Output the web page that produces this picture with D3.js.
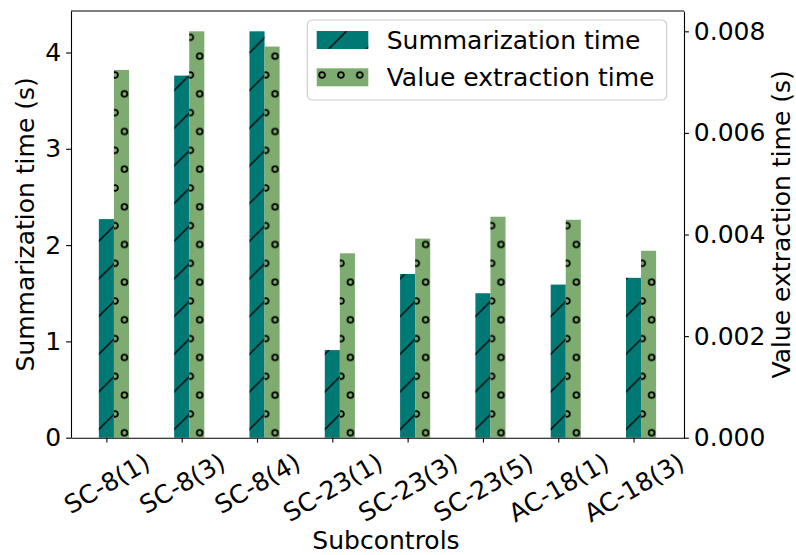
<!DOCTYPE html>
<html>
<head>
<meta charset="utf-8">
<script src="https://cdn.jsdelivr.net/npm/d3@7"></script>
<style>
  body { margin: 0; background: #fff; }
  text { font-family: "DejaVu Sans", sans-serif; }
</style>
</head>
<body>
<div id="chart"></div>
<script>
// values
const subcontrols = ["SC-8(1)", "SC-8(3)", "SC-8(4)", "SC-23(1)", "SC-23(3)", "SC-23(5)", "AC-18(1)", "AC-18(3)"];
const summarizationTime = [2.27, 3.76, 4.22, 0.91, 1.70, 1.50, 1.59, 1.66];
const extractionTime = [0.00724, 0.0080, 0.00770, 0.00363, 0.00392, 0.00435, 0.00429, 0.00368];
const leftTicks = [0, 1, 2, 3, 4];
const rightTicks = [0, 0.002, 0.004, 0.006, 0.008];

const width = 796;
const height = 555;
const margin = { top: 11, right: 112, bottom: 117.3, left: 71 };
const fontSize = 25;
const tickLen = 4.9;
const tickPad = 4.9;
const barW = 0.2;   // in category units, like matplotlib width=0.2

const teal = "#007874";
const green = "#7eab6f";

const svg = d3.select("#chart").append("svg")
  .attr("width", width)
  .attr("height", height);

const x0 = margin.left, x1 = width - margin.right;
const yBottom = height - margin.bottom, yTop = margin.top;

// matplotlib-like autoscale: 5% margins around the bars
const x = d3.scaleLinear()
  .domain([-barW / 2 - 0.37, subcontrols.length - 1 + 1.5 * barW + 0.37])
  .range([x0, x1]);
const yL = d3.scaleLinear()
  .domain([0, d3.max(summarizationTime) * 1.05])
  .range([yBottom, yTop]);
const yR = d3.scaleLinear()
  .domain([0, d3.max(extractionTime) * 1.05])
  .range([yBottom, yTop]);

// hatch patterns (global, like matplotlib)
const defs = svg.append("defs");
const T = 37.66;
const slash = defs.append("pattern")
  .attr("id", "hatch-slash")
  .attr("patternUnits", "userSpaceOnUse")
  .attr("x", 1).attr("y", 0)
  .attr("width", T).attr("height", T);
slash.append("path")
  .attr("d", `M0,${T} L${T},0 M-2,2 L2,-2 M${T - 2},${T + 2} L${T + 2},${T - 2}`)
  .attr("stroke", "#000")
  .attr("stroke-width", 1.3);

const W = T / 2;
const rings = defs.append("pattern")
  .attr("id", "hatch-rings")
  .attr("patternUnits", "userSpaceOnUse")
  .attr("x", 115).attr("y", 75)
  .attr("width", W).attr("height", T);
rings.selectAll("circle")
  .data([[0, 0], [W, 0], [0, T], [W, T], [W / 2, T / 2]])
  .join("circle")
  .attr("cx", d => d[0])
  .attr("cy", d => d[1])
  .attr("r", 2.9)
  .attr("fill", "none")
  .attr("stroke", "#000")
  .attr("stroke-width", 1.8);

const bw = x(barW) - x(0);

// summarization bars (left axis)
const gS = svg.append("g");
gS.selectAll("rect.base")
  .data(summarizationTime)
  .join("rect")
  .attr("class", "base")
  .attr("x", (d, i) => x(i - barW / 2))
  .attr("y", d => yL(d))
  .attr("width", bw)
  .attr("height", d => yBottom - yL(d))
  .attr("fill", teal);
gS.selectAll("rect.hatch")
  .data(summarizationTime)
  .join("rect")
  .attr("class", "hatch")
  .attr("x", (d, i) => x(i - barW / 2))
  .attr("y", d => yL(d))
  .attr("width", bw)
  .attr("height", d => yBottom - yL(d))
  .attr("fill", "url(#hatch-slash)");

// value extraction bars (right axis)
const gV = svg.append("g");
gV.selectAll("rect.base")
  .data(extractionTime)
  .join("rect")
  .attr("class", "base")
  .attr("x", (d, i) => x(i + barW / 2))
  .attr("y", d => yR(d))
  .attr("width", bw)
  .attr("height", d => yBottom - yR(d))
  .attr("fill", green);
gV.selectAll("rect.hatch")
  .data(extractionTime)
  .join("rect")
  .attr("class", "hatch")
  .attr("x", (d, i) => x(i + barW / 2))
  .attr("y", d => yR(d))
  .attr("width", bw)
  .attr("height", d => yBottom - yR(d))
  .attr("fill", "url(#hatch-rings)");

// axes
const styleAxis = g => {
  g.selectAll("path.domain").attr("stroke", "#000").attr("stroke-width", 1.1);
  g.selectAll(".tick line").attr("stroke", "#000").attr("stroke-width", 1.1);
  g.selectAll(".tick text")
    .attr("font-family", "DejaVu Sans, sans-serif")
    .attr("font-size", fontSize)
    .attr("fill", "#000");
};

svg.append("g")
  .attr("transform", `translate(${x0},0)`)
  .call(d3.axisLeft(yL).tickValues(leftTicks).tickFormat(d3.format("d"))
    .tickSize(tickLen).tickSizeOuter(0).tickPadding(tickPad))
  .call(styleAxis);

svg.append("g")
  .attr("transform", `translate(${x1},0)`)
  .call(d3.axisRight(yR).tickValues(rightTicks).tickFormat(d3.format(".3f"))
    .tickSize(tickLen).tickSizeOuter(0).tickPadding(tickPad))
  .call(styleAxis);

const xAxis = svg.append("g")
  .attr("transform", `translate(0,${yBottom})`)
  .call(d3.axisBottom(x).tickValues(d3.range(subcontrols.length))
    .tickFormat(i => subcontrols[i])
    .tickSize(tickLen).tickSizeOuter(0).tickPadding(tickPad))
  .call(styleAxis);

// rotate x tick labels 30deg, centred under the tick like matplotlib
const rot = 30 * Math.PI / 180;
const lineH = fontSize * 1.164;
xAxis.selectAll(".tick text").each(function () {
  const t = d3.select(this);
  const w = this.getComputedTextLength();
  const H = w * Math.sin(rot) + lineH * Math.cos(rot);
  t.attr("text-anchor", "middle")
    .attr("y", null)
    .attr("dy", "0.35em")
    .attr("transform", `translate(0,${tickLen + tickPad + H / 2}) rotate(-30)`);
});

// top spine
svg.append("line")
  .attr("x1", x0).attr("x2", x1)
  .attr("y1", yTop).attr("y2", yTop)
  .attr("stroke", "#000")
  .attr("stroke-width", 1.1);

// axis labels
svg.append("text")
  .attr("x", 386)
  .attr("y", 549)
  .attr("text-anchor", "middle")
  .attr("font-size", fontSize)
  .text("Subcontrols");

svg.append("text")
  .attr("transform", `translate(33.5,${(yTop + yBottom) / 2}) rotate(-90)`)
  .attr("text-anchor", "middle")
  .attr("font-size", fontSize)
  .text("Summarization time (s)");

svg.append("text")
  .attr("transform", `translate(790,${(yTop + yBottom) / 2}) rotate(-90)`)
  .attr("text-anchor", "middle")
  .attr("font-size", fontSize)
  .text("Value extraction time (s)");

// legend
const legendItems = [
  { label: "Summarization time", color: teal, hatch: "url(#hatch-slash)" },
  { label: "Value extraction time", color: green, hatch: "url(#hatch-rings)" }
];
const legend = svg.append("g");
legend.append("rect")
  .attr("x", 307.3).attr("y", 20)
  .attr("width", 359.4).attr("height", 80)
  .attr("rx", 5)
  .attr("fill", "#fff").attr("fill-opacity", 0.8)
  .attr("stroke", "#cccccc")
  .attr("stroke-width", 1.1);

const items = legend.selectAll(".legend-item")
  .data(legendItems)
  .join("g")
  .attr("class", "legend-item");

items.append("rect")
  .attr("x", 316.7)
  .attr("y", (d, i) => 31 + i * 37.3)
  .attr("width", 51.6)
  .attr("height", 18)
  .attr("fill", d => d.color);
items.append("rect")
  .attr("x", 316.7)
  .attr("y", (d, i) => 31 + i * 37.3)
  .attr("width", 51.6)
  .attr("height", 18)
  .attr("fill", d => d.hatch);

items.append("text")
  .attr("x", 386.7)
  .attr("y", (d, i) => 40 + i * 37.3 + 9)
  .attr("font-size", fontSize)
  .attr("fill", "#000")
  .text(d => d.label);
</script>
</body>
</html>
